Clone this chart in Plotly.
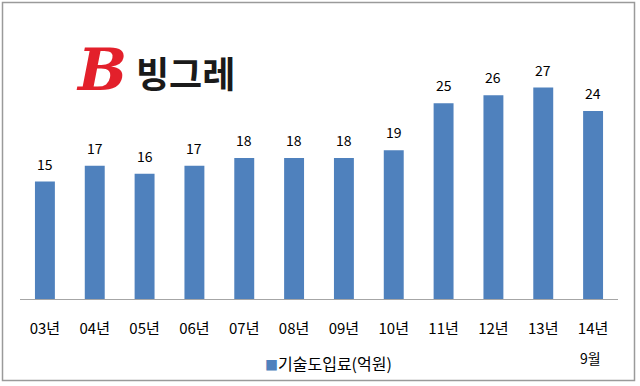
import plotly.graph_objects as go

categories = ["03년", "04년", "05년", "06년", "07년", "08년", "09년", "10년", "11년", "12년", "13년", "14년"]
values = [15, 17, 16, 17, 18, 18, 18, 19, 25, 26, 27, 24]
series_name = "기술도입료(억원)"
last_sub_label = "9월"
logo_mark = "B"
logo_text = "빙그레"

W, H = 640, 386
L, R, T, B = 20, 22, 64, 87
PW, PH = W - L - R, H - T - B
BAR_COLOR = "#4F81BD"


def px_x(px):
    return (px - L) / PW


def px_y(py):
    return (H - B - py) / PH


FONT = "Noto Sans CJK KR, Malgun Gothic, sans-serif"

fig = go.Figure(
    go.Bar(
        x=categories,
        y=values,
        name=series_name,
        marker=dict(color=BAR_COLOR, line=dict(width=0)),
        width=0.4,
        showlegend=False,
    )
)

annotations = []
for c, v in zip(categories, values):
    annotations.append(dict(
        x=c, y=v, xref="x", yref="y", text=str(v), showarrow=False,
        yanchor="bottom", yshift=6, font=dict(size=14, color="#000000", family=FONT),
    ))

annotations.append(dict(
    x=categories[-1], y=px_y(358), xref="x", yref="paper", text=last_sub_label,
    showarrow=False, yanchor="middle", xshift=-3,
    font=dict(size=14, color="#000000", family=FONT),
))

# legend (drawn as a compact key like the original)
annotations.append(dict(
    x=px_x(328), y=px_y(363), xref="paper", yref="paper",
    text="<span style='color:%s;font-size:13px'>■</span>%s" % (BAR_COLOR, series_name),
    showarrow=False, xanchor="center", yanchor="middle",
    font=dict(size=16, color="#000000", family=FONT),
))

# logo
annotations.append(dict(
    x=px_x(101), y=px_y(70), xref="paper", yref="paper",
    text="<b><i>" + logo_mark + "</i></b>", showarrow=False,
    xanchor="center", yanchor="middle",
    font=dict(size=58, color="#E3202B", family="DejaVu Serif"),
))
annotations.append(dict(
    x=px_x(185), y=px_y(72), xref="paper", yref="paper",
    text="<b>" + logo_text + "</b>", showarrow=False,
    xanchor="center", yanchor="middle",
    font=dict(size=36, color="#1A1A1A", family=FONT),
))

shapes = [dict(
    type="rect", xref="paper", yref="paper",
    x0=px_x(2.5), x1=px_x(634.5), y0=px_y(380.5), y1=px_y(2.5),
    line=dict(color="#9A9A9A", width=1.5), fillcolor="rgba(0,0,0,0)", layer="below",
)]

fig.update_layout(
    width=W, height=H,
    margin=dict(l=L, r=R, t=T, b=B),
    paper_bgcolor="white", plot_bgcolor="white",
    font=dict(family=FONT, size=14, color="#000000"),
    showlegend=False,
    annotations=annotations,
    shapes=shapes,
    xaxis=dict(
        type="category", showline=True, linecolor="#A6A6A6", linewidth=1,
        showgrid=False, zeroline=False,
        ticks="outside", ticklen=16, tickcolor="rgba(0,0,0,0)",
        tickfont=dict(size=15, family=FONT, color="#000000"),
        range=[-0.5, 11.5], fixedrange=True,
    ),
    yaxis=dict(range=[0, 30], visible=False, fixedrange=True),
    bargap=0.6,
)

fig.write_html(
    "out.html",
    config={"displayModeBar": False},
    post_script="document.body.style.margin='0';document.body.style.padding='0';document.body.style.overflow='hidden';",
)
